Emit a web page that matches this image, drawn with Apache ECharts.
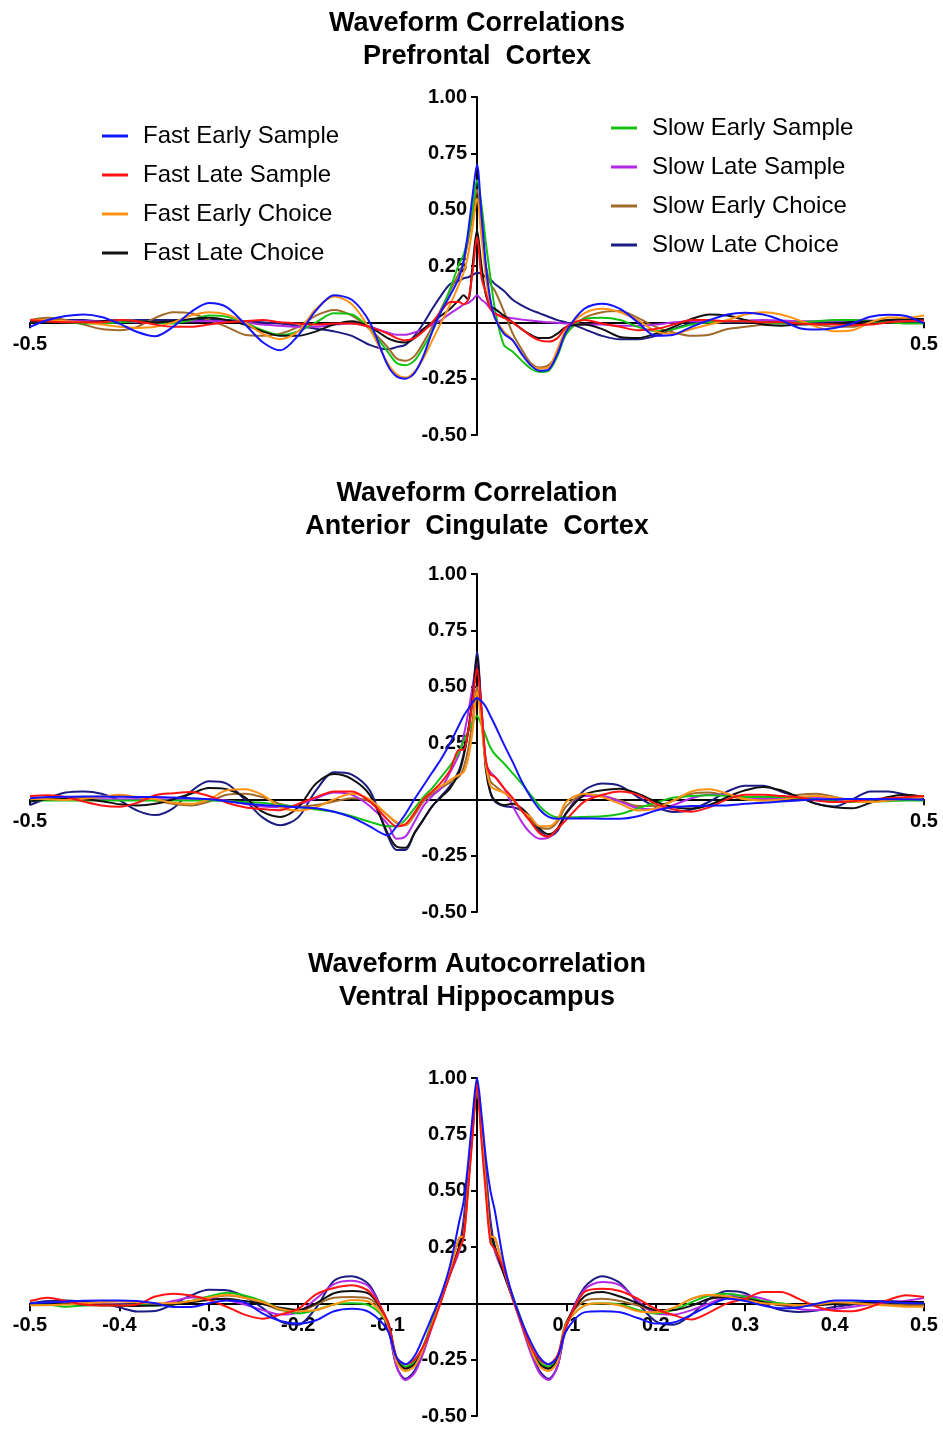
<!DOCTYPE html>
<html>
<head>
<meta charset="utf-8">
<title>Waveform Correlations</title>
<script src="https://cdn.jsdelivr.net/npm/echarts/dist/echarts.min.js"></script>
<style>
html,body{margin:0;padding:0;background:#fff}
#main{width:943px;height:1429px}
</style>
</head>
<body>
<div id="main"></div>
<script>
// lag (s) at which every curve is sampled: coarse far out, fine near the peak
const lags = [
  -0.5, -0.48, -0.46, -0.44, -0.42, -0.4, -0.38, -0.36, -0.34, -0.32, -0.3, -0.28, -0.26, -0.24, -0.22, -0.2, -0.18, -0.16, -0.14, -0.12, -0.1,
  -0.09, -0.08, -0.07, -0.06, -0.05, -0.04, -0.03, -0.02, -0.015, -0.01, -0.005, 0, 0.005, 0.01, 0.015, 0.02, 0.03, 0.04, 0.05, 0.06, 0.07, 0.08, 0.09,
  0.1, 0.12, 0.14, 0.16, 0.18, 0.2, 0.22, 0.24, 0.26, 0.28, 0.3, 0.32, 0.34, 0.36, 0.38, 0.4, 0.42, 0.44, 0.46, 0.48, 0.5
]

const seriesNames = ['Fast Early Sample', 'Fast Late Sample', 'Fast Early Choice', 'Fast Late Choice',
  'Slow Early Sample', 'Slow Late Sample', 'Slow Early Choice', 'Slow Late Choice']
const seriesColors = ['#1414ff', '#ff1414', '#ff9214', '#111111', '#14c214', '#b22ae6', '#a06a2c', '#1c1c82']

const yTicks = ['-0.50', '-0.25', '', '0.25', '0.50', '0.75', '1.00']

// ---- Prefrontal cortex ----
const pfcFES = [-0.02, 0.01, 0.028, 0.035, 0.024, -0.006, -0.043, -0.062, -0.02, 0.046, 0.086, 0.068, -0.006, -0.087, -0.124, -0.058, 0.053, 0.12, 0.1, 0.0, -0.19,
  -0.24, -0.25, -0.225, -0.15, -0.04, 0.05, 0.12, 0.2, 0.27, 0.4, 0.56, 0.70, 0.48, 0.25, 0.1, 0.02, -0.05, -0.08, -0.14, -0.19, -0.215, -0.21, -0.14,
  -0.04, 0.06, 0.083, 0.06, 0.0, -0.06, -0.055, -0.02, 0.01, 0.035, 0.043, 0.035, 0.01, -0.025, -0.032, -0.025, -0.005, 0.025, 0.034, 0.028, -0.005]
const pfcFLS = [0.01, 0.005, 0.0, 0.0, 0.0, 0.01, 0.005, -0.01, -0.02, -0.02, -0.01, 0.0, 0.005, 0.01, 0.0, -0.005, -0.01, -0.005, -0.005, -0.02, -0.05,
  -0.07, -0.08, -0.07, -0.04, 0.0, 0.05, 0.09, 0.09, 0.08, 0.1, 0.22, 0.38, 0.2, 0.13, 0.06, 0.04, 0.02, 0.0, -0.03, -0.06, -0.08, -0.085, -0.07,
  -0.02, 0.01, -0.005, -0.02, -0.035, -0.03, -0.01, 0.01, 0.01, 0.005, 0.005, 0.0, 0.0, -0.005, -0.008, -0.01, -0.012, -0.01, 0.0, 0.005, 0.008]
const pfcFEC = [0.01, 0.01, 0.005, 0.0, -0.01, -0.02, -0.025, -0.02, 0.0, 0.03, 0.045, 0.035, 0.0, -0.05, -0.075, -0.04, 0.06, 0.115, 0.08, -0.03, -0.18,
  -0.23, -0.245, -0.22, -0.16, -0.08, 0.0, 0.08, 0.17, 0.22, 0.3, 0.42, 0.55, 0.38, 0.2, 0.08, 0.02, -0.04, -0.08, -0.14, -0.19, -0.205, -0.2, -0.12,
  -0.03, 0.04, 0.06, 0.045, 0.01, -0.04, -0.05, -0.03, -0.01, 0.01, 0.035, 0.045, 0.035, 0.01, -0.02, -0.04, -0.035, 0.0, 0.022, 0.02, 0.03]
const pfcFLC = [0.005, 0.005, 0.0, 0.0, 0.005, 0.01, 0.005, 0.0, 0.005, 0.015, 0.02, 0.01, -0.01, -0.04, -0.06, -0.06, -0.04, -0.01, 0.005, -0.02, -0.07,
  -0.085, -0.09, -0.07, -0.03, 0.0, 0.03, 0.06, 0.1, 0.12, 0.1, 0.25, 0.41, 0.25, 0.12, 0.07, 0.06, 0.03, 0.0, -0.03, -0.055, -0.07, -0.07, -0.05,
  -0.02, -0.01, -0.03, -0.065, -0.07, -0.05, -0.02, 0.015, 0.035, 0.03, 0.01, -0.01, -0.015, -0.01, -0.008, -0.005, 0.0, 0.005, 0.01, 0.015, 0.015]
const pfcSES = [0.005, 0.005, 0.0, -0.005, -0.005, 0.0, 0.005, 0.0, -0.005, 0.01, 0.03, 0.025, 0.0, -0.035, -0.056, -0.04, 0.0, 0.04, 0.035, -0.03, -0.13,
  -0.18, -0.19, -0.17, -0.11, -0.04, 0.05, 0.15, 0.26, 0.3, 0.38, 0.5, 0.63, 0.52, 0.35, 0.2, 0.06, -0.1, -0.13, -0.17, -0.205, -0.22, -0.215, -0.15,
  -0.05, 0.015, 0.02, 0.01, -0.02, -0.04, -0.03, -0.01, 0.0, 0.005, 0.005, 0.0, -0.005, 0.0, 0.005, 0.01, 0.01, 0.005, 0.0, -0.005, -0.005]
const pfcSLS = [0.005, 0.005, 0.005, 0.005, 0.005, 0.005, 0.0, 0.0, 0.0, 0.005, 0.005, 0.005, 0.0, -0.01, -0.015, -0.02, -0.02, -0.01, -0.005, -0.02, -0.045,
  -0.055, -0.055, -0.045, -0.03, -0.01, 0.01, 0.04, 0.065, 0.08, 0.085, 0.1, 0.12, 0.1, 0.085, 0.06, 0.04, 0.025, 0.018, 0.012, 0.008, 0.004, 0.0, -0.002,
  -0.005, -0.01, -0.01, -0.015, -0.015, -0.01, 0.0, 0.005, 0.005, 0.005, 0.008, 0.01, 0.008, 0.005, 0.005, 0.008, 0.01, 0.008, 0.005, 0.005, 0.005]
const pfcSEC = [0.01, 0.02, 0.01, -0.01, -0.03, -0.035, -0.02, 0.02, 0.045, 0.04, 0.01, -0.02, -0.055, -0.06, -0.05, -0.02, 0.03, 0.055, 0.03, -0.03, -0.11,
  -0.16, -0.17, -0.15, -0.09, -0.02, 0.06, 0.14, 0.22, 0.27, 0.36, 0.47, 0.59, 0.42, 0.25, 0.17, 0.14, 0.05, -0.05, -0.12, -0.18, -0.2, -0.19, -0.14,
  -0.05, 0.02, 0.045, 0.05, 0.02, -0.02, -0.045, -0.06, -0.055, -0.03, -0.02, -0.01, 0.0, 0.005, -0.01, -0.02, -0.02, 0.0, 0.01, 0.015, 0.015]
const pfcSLC = [0.005, 0.01, 0.01, 0.01, 0.005, 0.005, 0.01, 0.01, 0.01, 0.01, 0.01, 0.01, 0.005, 0.0, -0.005, -0.015, -0.028, -0.04, -0.06, -0.1, -0.12,
  -0.11, -0.1, -0.06, -0.005, 0.06, 0.12, 0.17, 0.185, 0.195, 0.2, 0.21, 0.22, 0.215, 0.2, 0.19, 0.17, 0.14, 0.1, 0.075, 0.055, 0.04, 0.025, 0.01,
  0.0, -0.03, -0.06, -0.075, -0.075, -0.06, -0.03, -0.005, 0.0, 0.0, 0.0, 0.0, 0.002, 0.002, 0.0, 0.0, 0.002, 0.005, 0.005, 0.005, 0.005]

// ---- Anterior cingulate cortex ----
const accFES = [0.005, 0.01, 0.012, 0.013, 0.013, 0.012, 0.01, 0.01, 0.008, 0.005, 0.0, -0.008, -0.018, -0.025, -0.03, -0.035, -0.04, -0.055, -0.08, -0.12, -0.16,
  -0.12, -0.065, 0.0, 0.06, 0.12, 0.18, 0.25, 0.33, 0.37, 0.4, 0.43, 0.45, 0.435, 0.41, 0.37, 0.33, 0.245, 0.165, 0.08, 0.01, -0.045, -0.078, -0.086,
  -0.085, -0.085, -0.086, -0.086, -0.075, -0.05, -0.034, -0.03, -0.028, -0.027, -0.02, -0.015, -0.01, -0.005, 0.0, 0.0, 0.002, 0.002, 0.0, 0.0, -0.002]
const accFLS = [0.015, 0.018, 0.01, -0.01, -0.027, -0.033, -0.015, 0.018, 0.027, 0.033, 0.015, -0.015, -0.035, -0.043, -0.048, -0.02, 0.01, 0.035, 0.035, -0.01, -0.09,
  -0.12, -0.11, -0.06, 0.0, 0.035, 0.075, 0.13, 0.22, 0.22, 0.3, 0.43, 0.58, 0.4, 0.17, 0.11, 0.1, 0.05, 0.005, -0.05, -0.1, -0.15, -0.165, -0.13,
  -0.09, -0.01, 0.02, 0.035, 0.02, -0.02, -0.045, -0.055, -0.035, 0.0, 0.02, 0.02, 0.015, 0.008, -0.005, -0.012, -0.008, 0.0, 0.005, 0.01, 0.015]
const accFEC = [0.003, 0.0, -0.003, 0.003, 0.01, 0.02, 0.01, 0.0, -0.015, -0.02, 0.0, 0.04, 0.045, 0.02, -0.035, -0.05, -0.035, 0.0, 0.025, 0.0, -0.07,
  -0.1, -0.115, -0.06, 0.0, 0.035, 0.06, 0.085, 0.11, 0.12, 0.18, 0.3, 0.48, 0.33, 0.15, 0.06, 0.045, 0.03, 0.0, -0.05, -0.08, -0.12, -0.12, -0.09,
  -0.01, 0.025, 0.01, -0.02, -0.05, -0.04, -0.005, 0.035, 0.045, 0.025, 0.0, -0.005, -0.002, 0.01, 0.015, 0.008, -0.008, -0.012, -0.005, 0.003, 0.01]
const accFLC = [-0.01, 0.0, 0.003, 0.0, -0.008, -0.022, -0.027, -0.02, 0.0, 0.025, 0.05, 0.045, 0.01, -0.055, -0.078, -0.035, 0.07, 0.112, 0.09, 0.02, -0.15,
  -0.21, -0.215, -0.15, -0.09, -0.03, 0.01, 0.05, 0.12, 0.19, 0.3, 0.45, 0.63, 0.38, 0.13, 0.03, -0.005, -0.025, -0.02, -0.04, -0.08, -0.13, -0.155, -0.13,
  -0.06, 0.02, 0.04, 0.047, 0.025, -0.01, -0.035, -0.041, -0.025, 0.01, 0.04, 0.055, 0.04, 0.01, -0.02, -0.035, -0.04, -0.015, 0.01, 0.02, 0.01]
const accSES = [-0.005, -0.005, -0.005, -0.005, -0.005, -0.005, -0.005, -0.005, -0.005, -0.005, -0.005, -0.008, -0.012, -0.015, -0.025, -0.034, -0.045, -0.055, -0.075, -0.1, -0.12,
  -0.12, -0.09, -0.04, 0.01, 0.05, 0.1, 0.15, 0.21, 0.26, 0.3, 0.34, 0.37, 0.33, 0.28, 0.23, 0.2, 0.16, 0.115, 0.07, 0.02, -0.03, -0.064, -0.08,
  -0.08, -0.078, -0.075, -0.065, -0.04, -0.015, 0.008, 0.015, 0.018, 0.015, 0.01, 0.01, 0.01, 0.005, 0.0, -0.008, -0.012, -0.01, -0.008, -0.005, -0.005]
const accSLS = [0.0, 0.0, 0.0, 0.0, 0.0, 0.0, 0.0, 0.0, 0.0, 0.0, 0.0, -0.005, -0.02, -0.032, -0.035, -0.025, 0.005, 0.03, 0.02, -0.03, -0.11,
  -0.175, -0.165, -0.1, -0.03, 0.015, 0.05, 0.12, 0.2, 0.28, 0.38, 0.5, 0.61, 0.4, 0.16, 0.12, 0.1, 0.05, -0.03, -0.1, -0.15, -0.175, -0.17, -0.13,
  -0.06, 0.015, 0.015, -0.01, -0.04, -0.045, -0.025, 0.005, 0.02, 0.02, 0.01, 0.003, 0.003, 0.005, 0.01, 0.0, -0.01, -0.008, -0.002, 0.005, 0.01]
const accSEC = [0.0, 0.003, 0.005, 0.01, 0.012, 0.015, 0.005, -0.005, -0.02, -0.027, -0.01, 0.02, 0.025, 0.01, -0.02, -0.034, -0.025, -0.01, 0.005, -0.01, -0.07,
  -0.105, -0.115, -0.07, -0.01, 0.025, 0.05, 0.075, 0.1, 0.14, 0.22, 0.35, 0.5, 0.35, 0.17, 0.08, 0.06, 0.03, 0.0, -0.05, -0.09, -0.125, -0.13, -0.1,
  -0.03, 0.02, 0.015, -0.005, -0.03, -0.03, -0.005, 0.025, 0.03, 0.015, 0.0, -0.005, 0.005, 0.02, 0.025, 0.01, -0.005, -0.01, -0.005, 0.005, 0.01]
const accSLC = [-0.025, 0.005, 0.03, 0.035, 0.025, -0.005, -0.05, -0.07, -0.04, 0.035, 0.08, 0.07, 0.0, -0.08, -0.115, -0.08, 0.04, 0.12, 0.11, 0.04, -0.16,
  -0.225, -0.225, -0.15, -0.09, -0.03, 0.015, 0.06, 0.13, 0.2, 0.3, 0.45, 0.655, 0.4, 0.15, 0.03, -0.01, -0.03, -0.035, -0.05, -0.09, -0.14, -0.165, -0.14,
  -0.06, 0.04, 0.07, 0.06, 0.01, -0.034, -0.056, -0.045, -0.01, 0.035, 0.06, 0.06, 0.035, 0.01, -0.02, -0.032, 0.0, 0.035, 0.035, 0.02, 0.005]

// ---- Ventral hippocampus ----
const vhFES = [0.0, 0.004, 0.008, 0.012, 0.013, 0.013, 0.01, 0.0, -0.016, -0.016, 0.0, 0.013, 0.005, -0.045, -0.078, -0.09, -0.075, -0.035, -0.024, -0.04, -0.12,
  -0.24, -0.27, -0.235, -0.15, -0.056, 0.04, 0.17, 0.36, 0.45, 0.62, 0.83, 1.0, 0.84, 0.64, 0.5, 0.41, 0.18, 0.03, -0.08, -0.17, -0.24, -0.27, -0.24,
  -0.12, -0.04, -0.035, -0.04, -0.065, -0.09, -0.085, -0.05, -0.01, 0.02, 0.01, -0.01, -0.022, -0.018, -0.002, 0.013, 0.013, 0.01, 0.006, 0.002, 0.0]
const vhFLS = [0.01, 0.025, 0.01, -0.005, -0.01, -0.01, -0.005, 0.03, 0.043, 0.035, 0.015, -0.015, -0.05, -0.068, -0.05, -0.025, 0.04, 0.068, 0.08, 0.05, -0.08,
  -0.24, -0.27, -0.25, -0.19, -0.1, 0.01, 0.13, 0.24, 0.29, 0.5, 0.74, 0.975, 0.72, 0.48, 0.27, 0.24, 0.15, 0.02, -0.09, -0.19, -0.25, -0.27, -0.23,
  -0.1, 0.05, 0.065, 0.055, 0.02, -0.025, -0.052, -0.072, -0.04, 0.0, 0.02, 0.05, 0.05, 0.02, -0.015, -0.033, -0.035, -0.016, 0.015, 0.036, 0.028]
const vhFEC = [-0.008, -0.008, -0.005, 0.0, 0.005, 0.008, 0.005, 0.0, 0.0, 0.01, 0.025, 0.038, 0.025, 0.006, -0.025, -0.035, -0.03, -0.005, 0.015, 0.005, -0.09,
  -0.26, -0.3, -0.28, -0.2, -0.09, 0.02, 0.15, 0.29, 0.3, 0.52, 0.76, 0.96, 0.76, 0.52, 0.3, 0.29, 0.15, 0.02, -0.09, -0.2, -0.28, -0.3, -0.26,
  -0.09, -0.01, 0.0, -0.01, -0.035, -0.04, -0.02, 0.02, 0.038, 0.03, 0.015, 0.0, -0.005, -0.008, -0.005, 0.005, 0.002, -0.005, -0.01, -0.015, -0.015]
const vhFLC = [0.0, 0.0, -0.002, -0.005, -0.008, -0.01, -0.012, -0.01, -0.005, 0.005, 0.015, 0.02, 0.01, -0.003, -0.02, -0.03, 0.0, 0.045, 0.055, 0.04, -0.08,
  -0.25, -0.29, -0.27, -0.2, -0.09, 0.02, 0.13, 0.25, 0.32, 0.54, 0.77, 0.97, 0.77, 0.54, 0.32, 0.25, 0.13, 0.02, -0.09, -0.2, -0.27, -0.29, -0.25,
  -0.09, 0.03, 0.05, 0.03, 0.0, -0.03, -0.03, -0.01, 0.02, 0.028, 0.02, 0.005, -0.008, -0.01, -0.008, -0.003, 0.0, 0.005, 0.006, 0.006, 0.006]
const vhSES = [0.0, -0.005, -0.015, -0.01, -0.008, -0.01, -0.005, -0.01, -0.005, 0.01, 0.03, 0.047, 0.035, 0.01, -0.025, -0.045, -0.03, -0.005, 0.0, -0.01, -0.09,
  -0.25, -0.28, -0.26, -0.19, -0.08, 0.03, 0.14, 0.24, 0.3, 0.52, 0.76, 0.96, 0.76, 0.52, 0.3, 0.24, 0.14, 0.03, -0.08, -0.19, -0.26, -0.28, -0.25,
  -0.09, -0.01, 0.0, -0.005, -0.03, -0.045, -0.03, 0.005, 0.035, 0.043, 0.03, 0.01, 0.0, -0.008, -0.005, 0.0, 0.004, 0.006, 0.006, 0.004, 0.0]
const vhSLS = [0.0, 0.003, 0.0, -0.003, -0.005, -0.005, -0.006, -0.005, 0.01, 0.026, 0.025, 0.015, -0.005, -0.03, -0.05, -0.04, 0.02, 0.085, 0.1, 0.07, -0.1,
  -0.28, -0.34, -0.31, -0.22, -0.1, 0.02, 0.13, 0.23, 0.34, 0.56, 0.78, 0.97, 0.78, 0.56, 0.34, 0.23, 0.13, 0.02, -0.1, -0.22, -0.31, -0.34, -0.28,
  -0.1, 0.06, 0.095, 0.08, 0.01, -0.045, -0.05, -0.03, 0.0, 0.03, 0.035, 0.02, -0.005, -0.025, -0.03, -0.025, -0.015, -0.005, 0.005, 0.012, 0.024]
const vhSEC = [0.0, 0.0, 0.0, 0.0, -0.002, -0.005, -0.008, -0.005, 0.0, 0.01, 0.025, 0.035, 0.025, 0.0, -0.03, -0.035, -0.005, 0.025, 0.028, 0.02, -0.08,
  -0.24, -0.285, -0.26, -0.19, -0.08, 0.03, 0.15, 0.29, 0.3, 0.52, 0.76, 0.96, 0.76, 0.52, 0.3, 0.29, 0.15, 0.03, -0.08, -0.19, -0.26, -0.285, -0.24,
  -0.08, 0.01, 0.02, 0.01, -0.01, -0.035, -0.02, 0.02, 0.035, 0.028, 0.018, 0.005, -0.002, -0.008, -0.006, -0.002, 0.0, -0.004, -0.006, -0.008, -0.008]
const vhSLC = [0.0, 0.01, 0.013, 0.008, 0.0, -0.018, -0.036, -0.034, -0.005, 0.035, 0.06, 0.058, 0.03, -0.02, -0.08, -0.095, -0.02, 0.1, 0.12, 0.08, -0.1,
  -0.28, -0.335, -0.3, -0.21, -0.08, 0.03, 0.14, 0.25, 0.37, 0.58, 0.8, 0.98, 0.8, 0.58, 0.37, 0.25, 0.14, 0.03, -0.08, -0.21, -0.3, -0.335, -0.28,
  -0.1, 0.07, 0.12, 0.09, 0.0, -0.08, -0.095, -0.05, 0.02, 0.055, 0.045, 0.0, -0.03, -0.038, -0.032, -0.015, -0.005, 0.008, 0.01, 0.006, 0.006]

const panels = [
  {title: 'Waveform Correlations\nPrefrontal  Cortex', titleTop: 2, top: 97,
    curves: [pfcFES, pfcFLS, pfcFEC, pfcFLC, pfcSES, pfcSLS, pfcSEC, pfcSLC], xStep: 0.5},
  {title: 'Waveform Correlation\nAnterior  Cingulate  Cortex', titleTop: 472, top: 574,
    curves: [accFES, accFLS, accFEC, accFLC, accSES, accSLS, accSEC, accSLC], xStep: 0.5},
  {title: 'Waveform Autocorrelation\nVentral Hippocampus', titleTop: 943, top: 1078,
    curves: [vhFES, vhFLS, vhFEC, vhFLC, vhSES, vhSLS, vhSEC, vhSLC], xStep: 0.1}
]

const font = "'Liberation Sans', Arial, sans-serif"
const plotLeft = 30, plotWidth = 894, plotHeight = 338
const toPoints = (vals) => lags.map((x, k) => [x, vals[k]])

const titles = [], grids = [], xAxes = [], yAxes = [], series = []

panels.forEach((p, i) => {
  titles.push({
    text: p.title, left: 472, top: p.titleTop, textAlign: 'center',
    textStyle: {fontFamily: font, fontSize: 27, fontWeight: 'bold', color: '#000', lineHeight: 33}
  })
  grids.push({left: plotLeft, width: plotWidth, top: p.top, height: plotHeight,
    containLabel: false, outerBoundsMode: 'none'})
  // axes are shifted into the middle of the plot: x axis sits on y = 0, y axis on x = 0
  xAxes.push({
    gridIndex: i, type: 'value', min: -0.5, max: 0.5, interval: p.xStep,
    position: 'bottom', offset: -plotHeight * 0.5 / 1.5,
    axisLine: {onZero: false, lineStyle: {color: '#000', width: 2}},
    axisTick: {show: true, length: i === 2 ? 8 : 6, lineStyle: {color: '#000', width: 2}},
    splitLine: {show: false},
    axisLabel: {
      color: '#000', fontFamily: font, fontWeight: 'bold', fontSize: 20, margin: 12,
      formatter: (v) => Math.abs(v) < 1e-9 ? '' : (+v).toFixed(1)
    }
  })
  yAxes.push({
    gridIndex: i, type: 'value', min: -0.5, max: 1, interval: 0.25,
    position: 'left', offset: -plotWidth / 2,
    axisLine: {show: true, onZero: false, lineStyle: {color: '#000', width: 2}},
    axisTick: {show: true, length: 6, lineStyle: {color: '#000', width: 2}},
    splitLine: {show: false},
    axisLabel: {
      color: '#000', fontFamily: font, fontWeight: 'bold', fontSize: 20, margin: 10,
      formatter: (v) => yTicks[Math.round((v + 0.5) / 0.25)]
    }
  })
  // drawn back to front so Fast Early Sample ends on top
  for (let s = seriesNames.length - 1; s >= 0; s--) {
    series.push({
      type: 'line', name: seriesNames[s], xAxisIndex: i, yAxisIndex: i,
      data: toPoints(p.curves[s]),
      showSymbol: false, symbol: 'none', smooth: 0.3,
      lineStyle: {width: 2, color: seriesColors[s]},
      itemStyle: {color: seriesColors[s]}
    })
  }
})

const legendBase = {
  orient: 'vertical', icon: 'rect', itemWidth: 26, itemHeight: 3, itemGap: 15,
  selectedMode: false,
  textStyle: {fontFamily: font, fontSize: 24, color: '#000', padding: [0, 0, 0, 10]}
}

const option = {
  animation: false,
  backgroundColor: '#fff',
  title: titles,
  legend: [
    Object.assign({}, legendBase, {data: seriesNames.slice(0, 4), left: 97, top: 119}),
    Object.assign({}, legendBase, {data: seriesNames.slice(4), left: 606, top: 111})
  ],
  grid: grids,
  xAxis: xAxes,
  yAxis: yAxes,
  series: series
}

const myChart = echarts.init(document.getElementById('main'), null, {renderer: 'canvas'})
myChart.setOption(option)
</script>
</body>
</html>
